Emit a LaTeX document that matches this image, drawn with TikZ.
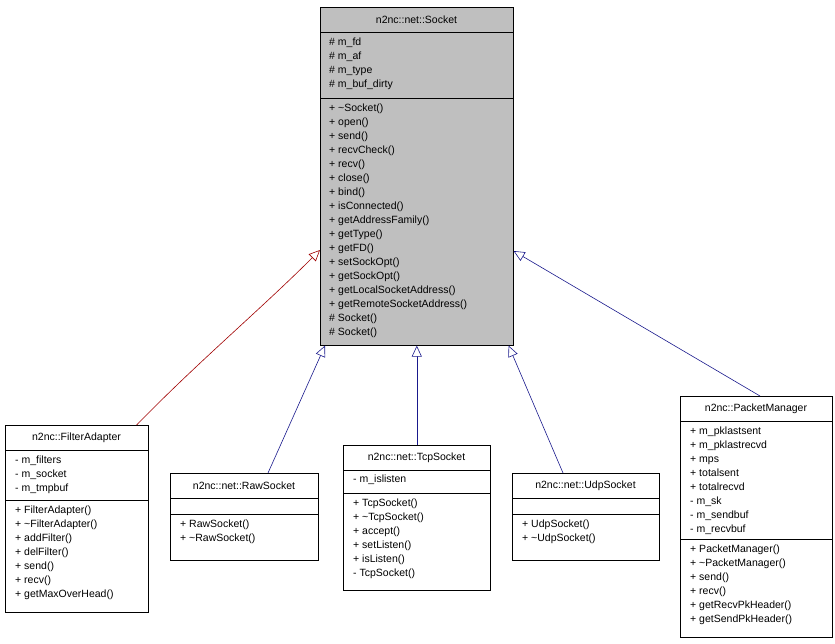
\documentclass[tikz,border=0pt]{standalone}
\usepackage{fontspec}
\setmainfont{Liberation Sans}
\usetikzlibrary{arrows.meta,calc}
\begin{document}
\begin{tikzpicture}[x=1pt,y=-1pt,
  box/.style={draw=black,line width=0.6pt,anchor=north west,inner sep=0pt,fill=white},
  txt/.style={anchor=north west,inner sep=0pt,align=left,font=\fontsize{10.5}{14}\selectfont},
  ttl/.style={anchor=center,inner sep=0pt,font=\fontsize{10.5}{14}\selectfont},
  inh/.style={draw=navy,line width=0.6pt,-{Triangle[open,length=11pt,width=10pt,fill=white]}},
  inhr/.style={draw=darkred,line width=0.6pt,-{Triangle[open,length=11pt,width=10pt,fill=white]}}]
\definecolor{navy}{RGB}{25,25,140}
\definecolor{darkred}{RGB}{160,0,0}
\useasboundingbox (0,0) rectangle (835,643);
% Socket
\node[box,fill=gray!50,minimum width=193pt,minimum height=338pt] (sock) at (320,7) {};
\draw (320,32) -- (513,32) (320,98) -- (513,98);
\node[ttl] at (416.5,19.5) {n2nc::net::Socket};
\node[txt] at (329,38) {\# m\_fd\\\# m\_af\\\# m\_type\\\# m\_buf\_dirty};
\node[txt] at (329,104) {+ \textasciitilde Socket()\\+ open()\\+ send()\\+ recvCheck()\\+ recv()\\+ close()\\+ bind()\\+ isConnected()\\+ getAddressFamily()\\+ getType()\\+ getFD()\\+ setSockOpt()\\+ getSockOpt()\\+ getLocalSocketAddress()\\+ getRemoteSocketAddress()\\\# Socket()\\\# Socket()};
% FilterAdapter
\node[box,minimum width=143pt,minimum height=187pt] (fa) at (5,425) {};
\draw (5,450) -- (148,450) (5,500) -- (148,500);
\node[ttl] at (76.5,437.5) {n2nc::FilterAdapter};
\node[txt] at (15,456) {- m\_filters\\- m\_socket\\- m\_tmpbuf};
\node[txt] at (15,506) {+ FilterAdapter()\\+ \textasciitilde FilterAdapter()\\+ addFilter()\\+ delFilter()\\+ send()\\+ recv()\\+ getMaxOverHead()};
% RawSocket
\node[box,minimum width=148pt,minimum height=87pt] (raw) at (170,473) {};
\draw (170,498) -- (318,498) (170,514) -- (318,514);
\node[ttl] at (244,485.5) {n2nc::net::RawSocket};
\node[txt] at (180,520) {+ RawSocket()\\+ \textasciitilde RawSocket()};
% TcpSocket
\node[box,minimum width=147pt,minimum height=145pt] (tcp) at (343,445) {};
\draw (343,470) -- (490,470) (343,493) -- (490,493);
\node[ttl] at (416.5,457.5) {n2nc::net::TcpSocket};
\node[txt] at (353,475) {- m\_islisten};
\node[txt] at (353,499) {+ TcpSocket()\\+ \textasciitilde TcpSocket()\\+ accept()\\+ setListen()\\+ isListen()\\- TcpSocket()};
% UdpSocket
\node[box,minimum width=147pt,minimum height=87pt] (udp) at (512,473) {};
\draw (512,498) -- (659,498) (512,514) -- (659,514);
\node[ttl] at (585.5,485.5) {n2nc::net::UdpSocket};
\node[txt] at (522,520) {+ UdpSocket()\\+ \textasciitilde UdpSocket()};
% PacketManager
\node[box,minimum width=152pt,minimum height=241pt] (pm) at (680,396) {};
\draw (680,421) -- (832,421) (680,539) -- (832,539);
\node[ttl] at (756,408.5) {n2nc::PacketManager};
\node[txt] at (690,427) {+ m\_pklastsent\\+ m\_pklastrecvd\\+ mps\\+ totalsent\\+ totalrecvd\\- m\_sk\\- m\_sendbuf\\- m\_recvbuf};
\node[txt] at (690,545) {+ PacketManager()\\+ \textasciitilde PacketManager()\\+ send()\\+ recv()\\+ getRecvPkHeader()\\+ getSendPkHeader()};
% edges
\draw[inhr] ([xshift=-12pt]fa.north east) .. controls (200,360) and (260,310) .. ([yshift=-243pt]sock.north west);
\draw[inh] ([xshift=98pt]raw.north west) -- ([xshift=5pt]sock.south west);
\draw[inh] (tcp.north) -- (sock.south);
\draw[inh] ([xshift=51pt]udp.north west) -- ([xshift=-5pt]sock.south east);
\draw[inh] ([xshift=80pt]pm.north west) -- ([yshift=-244pt]sock.north east);
\end{tikzpicture}
\end{document}
